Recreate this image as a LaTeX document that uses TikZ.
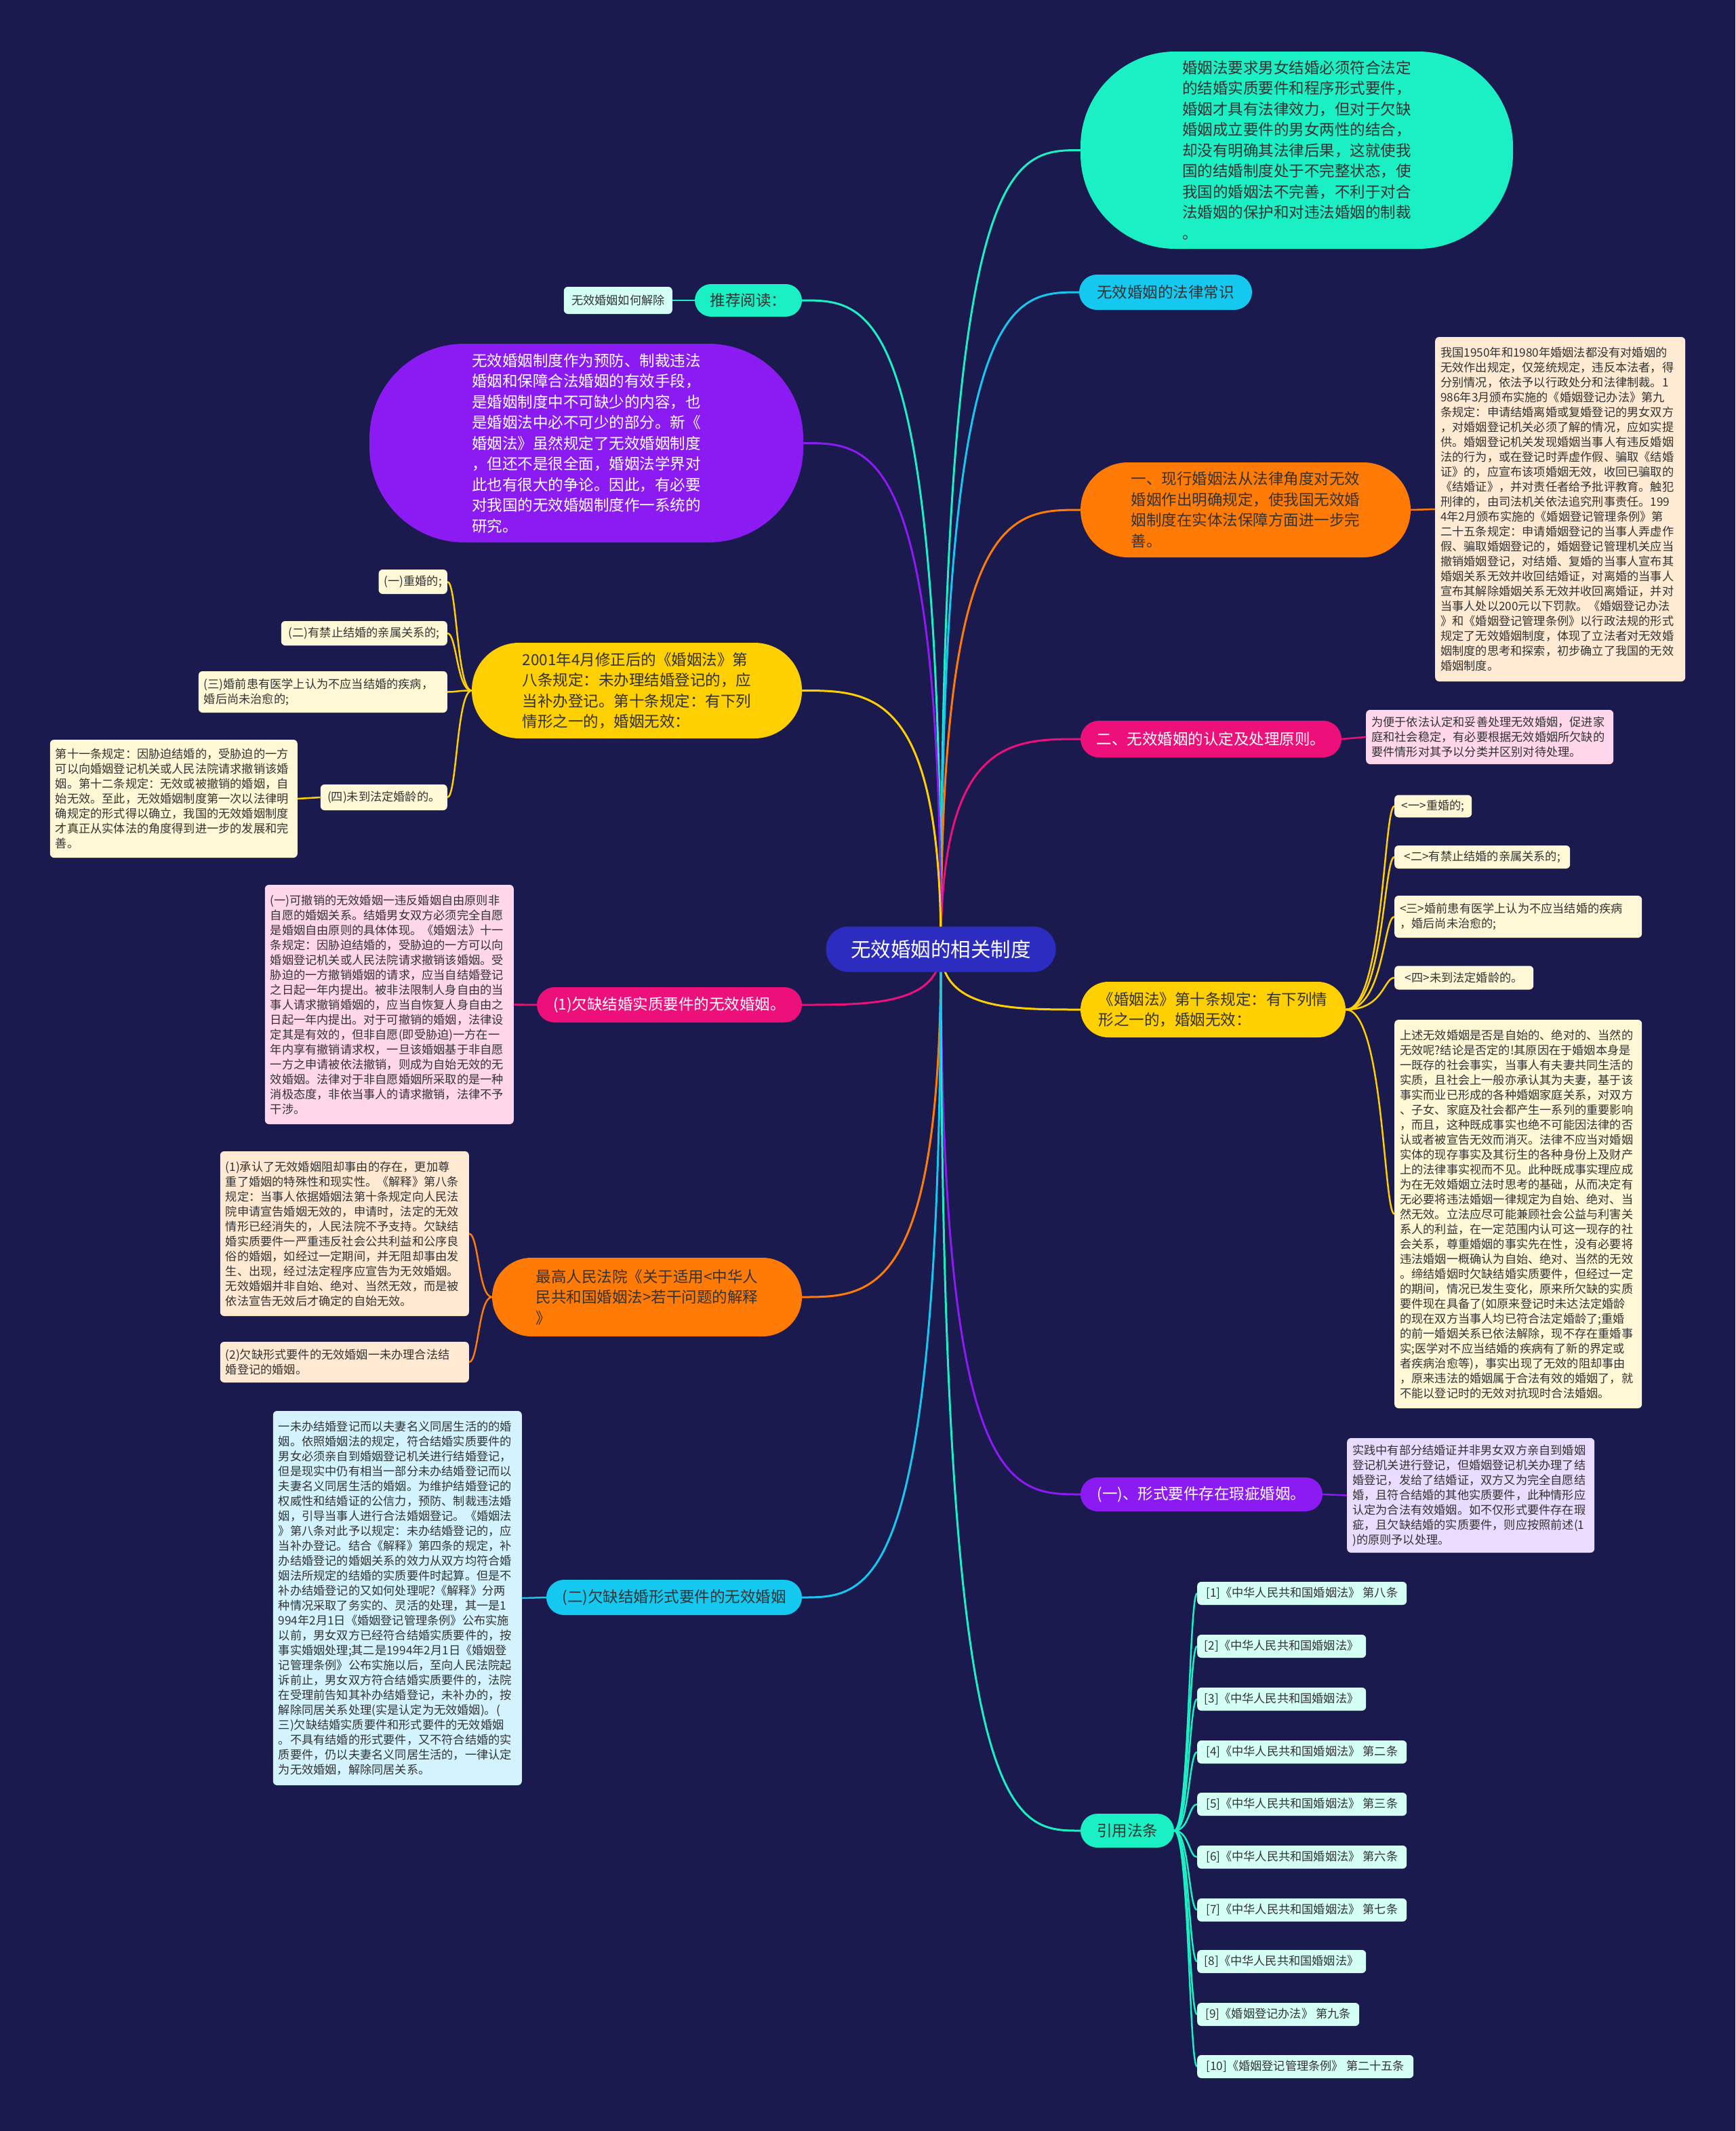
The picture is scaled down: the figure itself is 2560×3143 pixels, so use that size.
\documentclass[tikz,border=0pt]{standalone}
\usepackage{fontspec}
\setmainfont{Noto Sans CJK SC}
\usetikzlibrary{calc}
\pgfdeclarelayer{bg}
\pgfsetlayers{bg,main}
\definecolor{bgc}{HTML}{1A1A4E}
\definecolor{tealc}{HTML}{1AF0C4}
\definecolor{bluec}{HTML}{14C8F0}
\definecolor{orangec}{HTML}{FF7B05}
\definecolor{pinkc}{HTML}{EE107A}
\definecolor{yellowc}{HTML}{FFD000}
\definecolor{purplec}{HTML}{8B1BF2}
\definecolor{rootc}{HTML}{2C2CC0}
\definecolor{txt}{HTML}{333333}
\definecolor{lfTan}{HTML}{FFEBD3}
\definecolor{lfYel}{HTML}{FFF8D6}
\definecolor{lfPink}{HTML}{FFD6EA}
\definecolor{lfLav}{HTML}{EADCFF}
\definecolor{lfAqua}{HTML}{D4FFF4}
\definecolor{lfBlue}{HTML}{D3F4FF}
\definecolor{lfPeach}{HTML}{FFE9D2}
\tikzset{
  bigf/.style={font=\fontsize{22.5}{30.5}\selectfont},
  smallf/.style={font=\fontsize{17.2}{22}\selectfont},
  branch/.style={bigf, align=left, inner sep=0pt, text=txt},
  leaf/.style={smallf, align=left, rounded corners=6pt, inner xsep=8pt, inner ysep=0pt, text=txt},
  conn/.style={line width=3pt},
  lconn/.style={line width=2.5pt},
}
\begin{document}
\begin{tikzpicture}[x=1pt,y=-1pt]
\begin{pgfonlayer}{bg}
\fill[bgc] (0,0) rectangle (2560,3143);
\end{pgfonlayer}
\useasboundingbox (0,0) rectangle (2560,3143);

% root
\node[fill=rootc, text=white, rounded corners=33pt, minimum width=339pt, minimum height=67pt, inner sep=0pt, font=\fontsize{29.5}{34}\selectfont] (root) at (1388,1400) {无效婚姻的相关制度};

% ---------- right side ----------
\node[branch, fill=tealc, minimum width=638pt, minimum height=291pt, rounded corners=140pt] (A) at (1913,221.5) {婚姻法要求男女结婚必须符合法定\\的结婚实质要件和程序形式要件，\\婚姻才具有法律效力，但对于欠缺\\婚姻成立要件的男女两性的结合，\\却没有明确其法律后果，这就使我\\国的结婚制度处于不完整状态，使\\我国的婚姻法不完善，不利于对合\\法婚姻的保护和对违法婚姻的制裁\\。};

\node[branch, fill=bluec, minimum width=255pt, minimum height=52pt, rounded corners=26pt] (B) at (1719.5,431) {无效婚姻的法律常识};

\node[branch, fill=orangec, minimum width=487pt, minimum height=140pt, rounded corners=70pt] (C) at (1837.5,752) {一、现行婚姻法从法律角度对无效\\婚姻作出明确规定，使我国无效婚\\姻制度在实体法保障方面进一步完\\善。};

\node[leaf, fill=lfTan, anchor=west, text width=353pt, minimum height=508pt] (Cc) at (2117,751) {我国1950年和1980年婚姻法都没有对婚姻的\\无效作出规定，仅笼统规定，违反本法者，得\\分别情况，依法予以行政处分和法律制裁。1\\986年3月颁布实施的《婚姻登记办法》第九\\条规定：申请结婚离婚或复婚登记的男女双方\\，对婚姻登记机关必须了解的情况，应如实提\\供。婚姻登记机关发现婚姻当事人有违反婚姻\\法的行为，或在登记时弄虚作假、骗取《结婚\\证》的，应宣布该项婚姻无效，收回已骗取的\\《结婚证》，并对责任者给予批评教育。触犯\\刑律的，由司法机关依法追究刑事责任。199\\4年2月颁布实施的《婚姻登记管理条例》第\\二十五条规定：申请婚姻登记的当事人弄虚作\\假、骗取婚姻登记的，婚姻登记管理机关应当\\撤销婚姻登记，对结婚、复婚的当事人宣布其\\婚姻关系无效并收回结婚证，对离婚的当事人\\宣布其解除婚姻关系无效并收回离婚证，并对\\当事人处以200元以下罚款。《婚姻登记办法\\》和《婚姻登记管理条例》以行政法规的形式\\规定了无效婚姻制度，体现了立法者对无效婚\\姻制度的思考和探索，初步确立了我国的无效\\婚姻制度。};

\node[branch, fill=pinkc, text=white, minimum width=385pt, minimum height=54pt, rounded corners=27pt] (D) at (1786.5,1090) {二、无效婚姻的认定及处理原则。};

\node[leaf, fill=lfPink, anchor=west, text width=349pt, minimum height=80pt] (Dc) at (2015,1087) {为便于依法认定和妥善处理无效婚姻，促进家\\庭和社会稳定，有必要根据无效婚姻所欠缺的\\要件情形对其予以分类并区别对待处理。};

\node[branch, fill=yellowc, minimum width=391pt, minimum height=82pt, rounded corners=41pt] (E) at (1789.5,1489) {《婚姻法》第十条规定：有下列情\\形之一的，婚姻无效：};

\node[leaf, fill=lfYel, anchor=west, minimum width=114pt, minimum height=33pt] (e1) at (2057,1189) {<一>重婚的;};
\node[leaf, fill=lfYel, anchor=west, minimum width=259pt, minimum height=34pt] (e2) at (2057,1264) {<二>有禁止结婚的亲属关系的;};
\node[leaf, fill=lfYel, anchor=west, text width=349pt, minimum height=62pt] (e3) at (2057,1352) {<三>婚前患有医学上认为不应当结婚的疾病\\，婚后尚未治愈的;};
\node[leaf, fill=lfYel, anchor=west, minimum width=205pt, minimum height=35pt] (e4) at (2057,1442) {<四>未到法定婚龄的。};
\node[leaf, fill=lfYel, anchor=west, text width=349pt, minimum height=573pt] (e5) at (2057,1790.5) {上述无效婚姻是否是自始的、绝对的、当然的\\无效呢?结论是否定的!其原因在于婚姻本身是\\一既存的社会事实，当事人有夫妻共同生活的\\实质，且社会上一般亦承认其为夫妻，基于该\\事实而业已形成的各种婚姻家庭关系，对双方\\、子女、家庭及社会都产生一系列的重要影响\\，而且，这种既成事实也绝不可能因法律的否\\认或者被宣告无效而消灭。法律不应当对婚姻\\实体的现存事实及其衍生的各种身份上及财产\\上的法律事实视而不见。此种既成事实理应成\\为在无效婚姻立法时思考的基础，从而决定有\\无必要将违法婚姻一律规定为自始、绝对、当\\然无效。立法应尽可能兼顾社会公益与利害关\\系人的利益，在一定范围内认可这一现存的社\\会关系，尊重婚姻的事实先在性，没有必要将\\违法婚姻一概确认为自始、绝对、当然的无效\\。缔结婚姻时欠缺结婚实质要件，但经过一定\\的期间，情况已发生变化，原来所欠缺的实质\\要件现在具备了(如原来登记时未达法定婚龄\\的现在双方当事人均已符合法定婚龄了;重婚\\的前一婚姻关系已依法解除，现不存在重婚事\\实;医学对不应当结婚的疾病有了新的界定或\\者疾病治愈等)，事实出现了无效的阻却事由\\，原来违法的婚姻属于合法有效的婚姻了，就\\不能以登记时的无效对抗现时合法婚姻。};

\node[branch, fill=purplec, text=white, minimum width=357pt, minimum height=50pt, rounded corners=25pt] (F) at (1772.5,2204) {(一)、形式要件存在瑕疵婚姻。};

\node[leaf, fill=lfLav, anchor=west, text width=349pt, minimum height=169pt] (Fc) at (1987,2205.5) {实践中有部分结婚证并非男女双方亲自到婚姻\\登记机关进行登记，但婚姻登记机关办理了结\\婚登记，发给了结婚证，双方又为完全自愿结\\婚，且符合结婚的其他实质要件，此种情形应\\认定为合法有效婚姻。如不仅形式要件存在瑕\\疵，且欠缺结婚的实质要件，则应按照前述(1\\)的原则予以处理。};

\node[branch, fill=tealc, minimum width=138pt, minimum height=50pt, rounded corners=25pt] (G) at (1663,2700) {引用法条};

\node[leaf, fill=lfAqua, anchor=west, minimum width=309pt, minimum height=34pt] (g1) at (1766,2350) {[1]《中华人民共和国婚姻法》 第八条};
\node[leaf, fill=lfAqua, anchor=west, minimum width=249pt, minimum height=34pt] (g2) at (1766,2428) {[2]《中华人民共和国婚姻法》};
\node[leaf, fill=lfAqua, anchor=west, minimum width=249pt, minimum height=34pt] (g3) at (1766,2506) {[3]《中华人民共和国婚姻法》};
\node[leaf, fill=lfAqua, anchor=west, minimum width=309pt, minimum height=34pt] (g4) at (1766,2584) {[4]《中华人民共和国婚姻法》 第二条};
\node[leaf, fill=lfAqua, anchor=west, minimum width=309pt, minimum height=34pt] (g5) at (1766,2661) {[5]《中华人民共和国婚姻法》 第三条};
\node[leaf, fill=lfAqua, anchor=west, minimum width=309pt, minimum height=34pt] (g6) at (1766,2739) {[6]《中华人民共和国婚姻法》 第六条};
\node[leaf, fill=lfAqua, anchor=west, minimum width=309pt, minimum height=34pt] (g7) at (1766,2817) {[7]《中华人民共和国婚姻法》 第七条};
\node[leaf, fill=lfAqua, anchor=west, minimum width=249pt, minimum height=34pt] (g8) at (1766,2893) {[8]《中华人民共和国婚姻法》};
\node[leaf, fill=lfAqua, anchor=west, minimum width=239pt, minimum height=34pt] (g9) at (1766,2971) {[9]《婚姻登记办法》 第九条};
\node[leaf, fill=lfAqua, anchor=west, minimum width=319pt, minimum height=34pt] (g10) at (1766,3048) {[10]《婚姻登记管理条例》 第二十五条};

% ---------- left side ----------
\node[branch, fill=tealc, minimum width=158pt, minimum height=48pt, rounded corners=24pt] (H) at (1104,443) {推荐阅读：};
\node[leaf, fill=lfAqua, anchor=east, minimum width=160pt, minimum height=40pt] (Hc) at (992,443) {无效婚姻如何解除};

\node[branch, fill=purplec, text=white, minimum width=640pt, minimum height=293pt, rounded corners=140pt] (I) at (865,653.5) {无效婚姻制度作为预防、制裁违法\\婚姻和保障合法婚姻的有效手段，\\是婚姻制度中不可缺少的内容，也\\是婚姻法中必不可少的部分。新《\\婚姻法》虽然规定了无效婚姻制度\\，但还不是很全面，婚姻法学界对\\此也有很大的争论。因此，有必要\\对我国的无效婚姻制度作一系统的\\研究。};

\node[branch, fill=yellowc, minimum width=487pt, minimum height=141pt, rounded corners=70pt] (J) at (939.5,1018.5) {2001年4月修正后的《婚姻法》第\\八条规定：未办理结婚登记的，应\\当补办登记。第十条规定：有下列\\情形之一的，婚姻无效：};

\node[leaf, fill=lfYel, anchor=east, minimum width=101pt, minimum height=36pt] (j1) at (660,858) {(一)重婚的;};
\node[leaf, fill=lfYel, anchor=east, minimum width=245pt, minimum height=36pt] (j2) at (660,934) {(二)有禁止结婚的亲属关系的;};
\node[leaf, fill=lfYel, anchor=east, text width=351pt, minimum height=61pt] (j3) at (660,1020.5) {(三)婚前患有医学上认为不应当结婚的疾病，\\婚后尚未治愈的;};
\node[leaf, fill=lfYel, anchor=east, minimum width=187pt, minimum height=38pt] (j4) at (660,1176) {(四)未到法定婚龄的。};
\node[leaf, fill=lfYel, anchor=east, text width=349pt, minimum height=174pt] (j4c) at (439,1178) {第十一条规定：因胁迫结婚的，受胁迫的一方\\可以向婚姻登记机关或人民法院请求撤销该婚\\姻。第十二条规定：无效或被撤销的婚姻，自\\始无效。至此，无效婚姻制度第一次以法律明\\确规定的形式得以确立，我国的无效婚姻制度\\才真正从实体法的角度得到进一步的发展和完\\善。};

\node[branch, fill=pinkc, text=white, minimum width=391pt, minimum height=52pt, rounded corners=26pt] (K) at (987.5,1482) {(1)欠缺结婚实质要件的无效婚姻。};
\node[leaf, fill=lfPink, anchor=east, text width=351pt, minimum height=353pt] (Kc) at (758,1481.5) {(一)可撤销的无效婚姻一违反婚姻自由原则非\\自愿的婚姻关系。结婚男女双方必须完全自愿\\是婚姻自由原则的具体体现。《婚姻法》十一\\条规定：因胁迫结婚的，受胁迫的一方可以向\\婚姻登记机关或人民法院请求撤销该婚姻。受\\胁迫的一方撤销婚姻的请求，应当自结婚登记\\之日起一年内提出。被非法限制人身自由的当\\事人请求撤销婚姻的，应当自恢复人身自由之\\日起一年内提出。对于可撤销的婚姻，法律设\\定其是有效的，但非自愿(即受胁迫)一方在一\\年内享有撤销请求权，一旦该婚姻基于非自愿\\一方之申请被依法撤销，则成为自始无效的无\\效婚姻。法律对于非自愿婚姻所采取的是一种\\消极态度，非依当事人的请求撤销，法律不予\\干涉。};

\node[branch, fill=orangec, minimum width=457pt, minimum height=116pt, rounded corners=58pt] (L) at (954.5,1913) {最高人民法院《关于适用<中华人\\民共和国婚姻法>若干问题的解释\\》};
\node[leaf, fill=lfPeach, anchor=east, text width=351pt, minimum height=243pt] (Lc1) at (692,1819.5) {(1)承认了无效婚姻阻却事由的存在，更加尊\\重了婚姻的特殊性和现实性。《解释》第八条\\规定：当事人依据婚姻法第十条规定向人民法\\院申请宣告婚姻无效的，申请时，法定的无效\\情形已经消失的，人民法院不予支持。欠缺结\\婚实质要件一严重违反社会公共利益和公序良\\俗的婚姻，如经过一定期间，并无阻却事由发\\生、出现，经过法定程序应宣告为无效婚姻。\\无效婚姻并非自始、绝对、当然无效，而是被\\依法宣告无效后才确定的自始无效。};
\node[leaf, fill=lfPeach, anchor=east, text width=351pt, minimum height=60pt] (Lc2) at (692,2009) {(2)欠缺形式要件的无效婚姻一未办理合法结\\婚登记的婚姻。};

\node[branch, fill=bluec, minimum width=377pt, minimum height=52pt, rounded corners=26pt] (M) at (994.5,2356) {(二)欠缺结婚形式要件的无效婚姻};
\node[leaf, fill=lfBlue, anchor=east, text width=351pt, minimum height=552pt] (Mc) at (770,2357) {一未办结婚登记而以夫妻名义同居生活的的婚\\姻。依照婚姻法的规定，符合结婚实质要件的\\男女必须亲自到婚姻登记机关进行结婚登记，\\但是现实中仍有相当一部分未办结婚登记而以\\夫妻名义同居生活的婚姻。为维护结婚登记的\\权威性和结婚证的公信力，预防、制裁违法婚\\姻，引导当事人进行合法婚姻登记。《婚姻法\\》第八条对此予以规定：未办结婚登记的，应\\当补办登记。结合《解释》第四条的规定，补\\办结婚登记的婚姻关系的效力从双方均符合婚\\姻法所规定的结婚的实质要件时起算。但是不\\补办结婚登记的又如何处理呢?《解释》分两\\种情况采取了务实的、灵活的处理，其一是1\\994年2月1日《婚姻登记管理条例》公布实施\\以前，男女双方已经符合结婚实质要件的，按\\事实婚姻处理;其二是1994年2月1日《婚姻登\\记管理条例》公布实施以后，至向人民法院起\\诉前止，男女双方符合结婚实质要件的，法院\\在受理前告知其补办结婚登记，未补办的，按\\解除同居关系处理(实是认定为无效婚姻)。(\\三)欠缺结婚实质要件和形式要件的无效婚姻\\。不具有结婚的形式要件，又不符合结婚的实\\质要件，仍以夫妻名义同居生活的，一律认定\\为无效婚姻，解除同居关系。};

% ---------- connectors ----------
\begin{pgfonlayer}{bg}
\foreach \nm/\cl in {A/tealc,B/bluec,C/orangec,D/pinkc,E/yellowc,F/purplec,G/tealc}{
  \draw[conn, draw=\cl] let \p1=(root.center), \p2=(\nm.west) in
    (\p1) .. controls (\x1,\y2) and ({(\x1+\x2)/2},\y2) .. (\p2);
}
\foreach \nm/\cl in {H/tealc,I/purplec,J/yellowc,K/pinkc,L/orangec,M/bluec}{
  \draw[conn, draw=\cl] let \p1=(root.center), \p2=(\nm.east) in
    (\p1) .. controls (\x1,\y2) and ({(\x1+\x2)/2},\y2) .. (\p2);
}
\draw[lconn, draw=tealc] (H.west) -- (Hc.east);
\draw[lconn, draw=orangec] (C.east) -- (Cc.west);
\draw[lconn, draw=pinkc] (D.east) -- (Dc.west);
\draw[lconn, draw=purplec] (F.east) -- (Fc.west);
\draw[lconn, draw=pinkc] (K.west) -- (Kc.east);
\draw[lconn, draw=bluec] (M.west) -- (Mc.east);
\draw[lconn, draw=yellowc] (j4.west) -- (j4c.east);
\foreach \nm in {e1,e2,e3,e4,e5}{
  \draw[lconn, draw=yellowc] let \p1=(E.east), \p2=(\nm.west) in
    (\p1) .. controls (\x1+56pt,\y1) and (\x2-16pt,\y2) .. (\p2);
}
\foreach \nm in {g1,g2,g3,g4,g5,g6,g7,g8,g9,g10}{
  \draw[lconn, draw=tealc] let \p1=(G.east), \p2=(\nm.west) in
    (\p1) .. controls (\x1+22pt,\y1) and (\x2-12pt,\y2) .. (\p2);
}
\foreach \nm in {j1,j2,j3,j4}{
  \draw[lconn, draw=yellowc] let \p1=(J.west), \p2=(\nm.east) in
    (\p1) .. controls (\x1-22pt,\y1) and (\x2+14pt,\y2) .. (\p2);
}
\foreach \nm in {Lc1,Lc2}{
  \draw[lconn, draw=orangec] let \p1=(L.west), \p2=(\nm.east) in
    (\p1) .. controls (\x1-20pt,\y1) and (\x2+14pt,\y2) .. (\p2);
}
\end{pgfonlayer}
\end{tikzpicture}
\end{document}
